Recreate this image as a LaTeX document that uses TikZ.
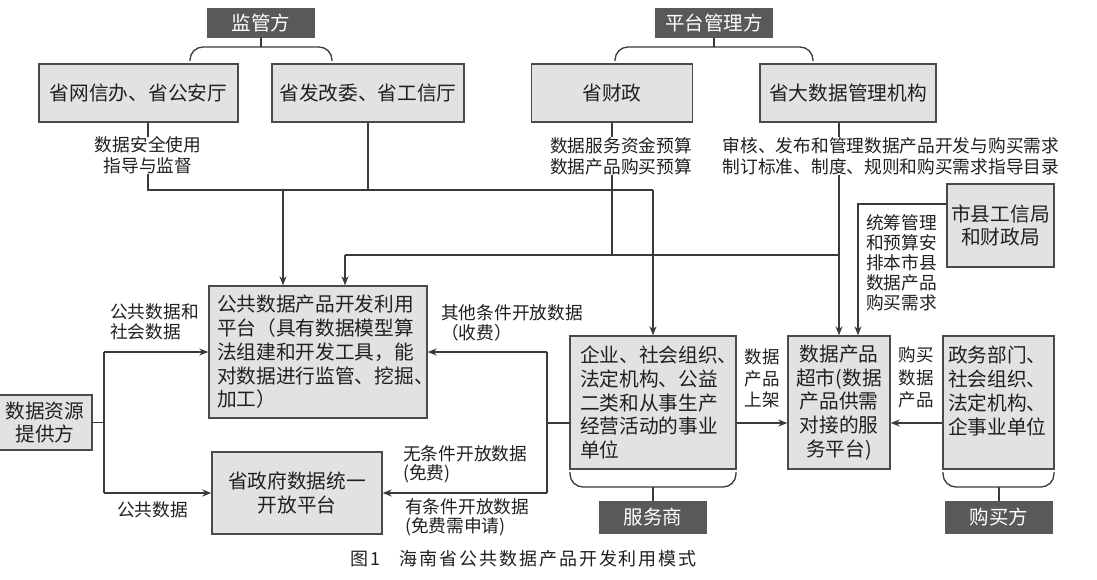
\documentclass[tikz,border=0pt]{standalone}
\usepackage{fontspec}
\setmainfont{Noto Sans CJK SC}
\newfontfamily\capfont{Noto Sans CJK SC}[LetterSpace=11]
\usetikzlibrary{arrows.meta}
\definecolor{boxfill}{HTML}{E1E2E3}
\definecolor{boxline}{HTML}{4A4A4A}
\definecolor{darkfill}{HTML}{58595B}
\definecolor{txt}{HTML}{231F20}
\definecolor{ln}{HTML}{3A3A3A}
\begin{document}
\begin{tikzpicture}[x=1pt,y=-1pt,
  box/.style={draw=boxline, line width=1.4pt, fill=boxfill, inner sep=0pt, text=txt, font=\fontsize{19.7}{23.8}\selectfont},
  dark/.style={fill=darkfill, draw=none, inner sep=0pt, text=white, font=\fontsize{19.5}{23}\selectfont},
  lab/.style={inner sep=0pt, text=txt, font=\fontsize{17.7}{20.8}\selectfont},
  conn/.style={draw=ln, line width=1.3pt},
  arr/.style={conn, -{Stealth[length=9pt,width=7pt]}},
]
\fill[white] (0,0) rectangle (1097,579);
\useasboundingbox (0,0) rectangle (1097,579);

% top dark labels
\node[dark, minimum width=108, minimum height=30] (jg) at (261,23) {监管方};
\node[dark, minimum width=118, minimum height=30] (pt) at (714,23) {平台管理方};

% top boxes
\node[box, minimum width=199, minimum height=58] (wx) at (138.5,93) {省网信办、省公安厅};
\node[box, minimum width=192, minimum height=58] (fg) at (368,93) {省发改委、省工信厅};
\node[box, minimum width=161, minimum height=58] (cz) at (612,93) {省财政};
\node[box, minimum width=176, minimum height=58] (dsj) at (848,93) {省大数据管理机构};
\node[box, minimum width=107, minimum height=83, align=center] (sx) at (1000.5,225.5) {市县工信局\\和财政局};

% middle boxes
\node[box, minimum width=218, minimum height=132, text width=202pt, align=left] (plat) at (318,352)
  {公共数据产品开发利用\\平台（具有数据模型算\\法组建和开发工具，能\\对数据进行监管、挖掘、\\加工）};
\node[box, minimum width=94, minimum height=55, align=center] (src) at (45,422.5) {数据资源\\提供方};
\node[box, minimum width=170, minimum height=82, align=center] (gov) at (297,493) {省政府数据统一\\开放平台};
\node[box, minimum width=166, minimum height=133, text width=146pt, align=left] (ent) at (653,402.5)
  {企业、社会组织、\\法定机构、公益\\二类和从事生产\\经营活动的事业\\单位};
\node[box, minimum width=102, minimum height=133, align=center] (mkt) at (839,402.5)
  {数据产品\\超市(数据\\产品供需\\对接的服\\务平台)};
\node[box, minimum width=111, minimum height=133, text width=101pt, align=left] (buy) at (998.5,402.5)
  {政务部门、\\社会组织、\\法定机构、\\企事业单位\\\phantom{企}};

% bottom dark labels
\node[dark, minimum width=108, minimum height=33] (fws) at (653,517.5) {服务商};
\node[dark, minimum width=108, minimum height=33] (gmf) at (999,517.5) {购买方};

% labels
\node[lab, align=center] (l1) at (148,155.5) {数据安全使用\\指导与监督};
\node[lab, align=center] (l2) at (621,156) {数据服务资金预算\\数据产品购买预算};
\node[lab, align=center] (l3) at (891,156) {审核、发布和管理数据产品开发与购买需求\\制订标准、制度、规则和购买需求指导目录};
\node[lab, align=left, font=\fontsize{17.7}{20}\selectfont] (l4) at (901.4,263) {统筹管理\\和预算安\\排本市县\\数据产品\\购买需求};
\node[lab, align=left, anchor=west, font=\fontsize{17.7}{20}\selectfont] (l5) at (110,322) {公共数据和\\社会数据};
\node[lab, anchor=west] (l6) at (117,510) {公共数据};
\node[lab, align=left, anchor=west, font=\fontsize{17.7}{20}\selectfont] (l7) at (441,323) {其他条件开放数据\\（收费）};
\node[lab, align=left, anchor=west, font=\fontsize{17.7}{19.5}\selectfont] (l8) at (403,464.5) {无条件开放数据\\(免费)};
\node[lab, align=left, anchor=west, font=\fontsize{17.7}{19.5}\selectfont] (l9) at (405,517.5) {有条件开放数据\\(免费需申请)};
\node[lab, align=center, font=\fontsize{17.5}{21.5}\selectfont] (l10) at (762,378.5) {数据\\产品\\上架};
\node[lab, align=center, font=\fontsize{17.5}{22.5}\selectfont] (l11) at (916,377.5) {购买\\数据\\产品};

% caption
\node[inner sep=0pt, anchor=west, text=txt, font=\fontsize{18}{20}\capfont] (cap1) at (350,559) {图1};
\node[inner sep=0pt, anchor=west, text=txt, font=\fontsize{18}{20}\capfont] (cap2) at (399,559) {海南省公共数据产品开发利用模式};

% top brackets
\draw[conn] (jg.south) -- (jg.south |- 0,47);
\draw[conn, rounded corners=13pt] (190,61) -- (190,47) -- (332,47) -- (332,61);
\draw[conn] (pt.south) -- (pt.south |- 0,47);
\draw[conn, rounded corners=13pt] (615,61) -- (615,47) -- (813,47) -- (813,61);

% coordinates
\coordinate (h1L) at (148,190);
\coordinate (h1R) at (653,190);
\coordinate (a1) at (283,190);
\coordinate (h2L) at (345,255);
\coordinate (h2M) at (612,255);
\coordinate (h2R) at (839,255);
\coordinate (sxj) at (947,204);
\coordinate (cX) at (858,204);
\coordinate (vL1) at (104,352);
\coordinate (vL2) at (104,493);
\coordinate (vR1) at (547,352);
\coordinate (vR2) at (547,493);
\coordinate (ej) at (570,423);

% supervision lines
\draw[conn] (wx.south -| h1L) -- (l1.north -| h1L);
\draw[conn] (l1.south -| h1L) -- (h1L) -- (h1R);
\draw[arr] (h1R) -- (ent.north);
\draw[conn] (fg.south) -- (fg.south |- h1L);
\draw[arr] (a1) -- (a1 |- plat.north);

% platform management lines
\draw[conn] (cz.south) -- (cz.south |- l2.north);
\draw[conn] (cz.south |- l2.south) -- (h2M);
\draw[conn] (h2L) -- (h2R);
\draw[arr] (h2L) -- (h2L |- plat.north);
\draw[conn] (dsj.south -| h2R) -- (l3.north -| h2R);
\draw[arr] (l3.south -| h2R) -- (mkt.north);
\draw[arr] (sxj) -- (cX) -- (cX |- mkt.north);

% data provider
\draw[conn] (src.east) -- (src.east -| vL1);
\draw[conn] (vL1) -- (vL2);
\draw[arr] (vL1) -- (plat.west);
\draw[arr] (vL2) -- (gov.west);

% service provider
\draw[conn] (ej) -- (ej -| vR1);
\draw[conn] (vR1) -- (vR2);
\draw[arr] (vR1) -- (plat.east);
\draw[arr] (vR2) -- (gov.east);
\draw[arr] (ent.east |- ej) -- (mkt.west |- ej);
\draw[arr] (buy.west |- ej) -- (mkt.east |- ej);

% bottom brackets
\draw[conn, rounded corners=13pt] (570,472) -- (570,487) -- (736,487) -- (736,472);
\draw[conn] (fws.north) -- (fws.north |- 0,487);
\draw[conn, rounded corners=13pt] (943,472) -- (943,487) -- (1054,487) -- (1054,472);
\draw[conn] (gmf.north) -- (gmf.north |- 0,487);
\end{tikzpicture}
\end{document}
